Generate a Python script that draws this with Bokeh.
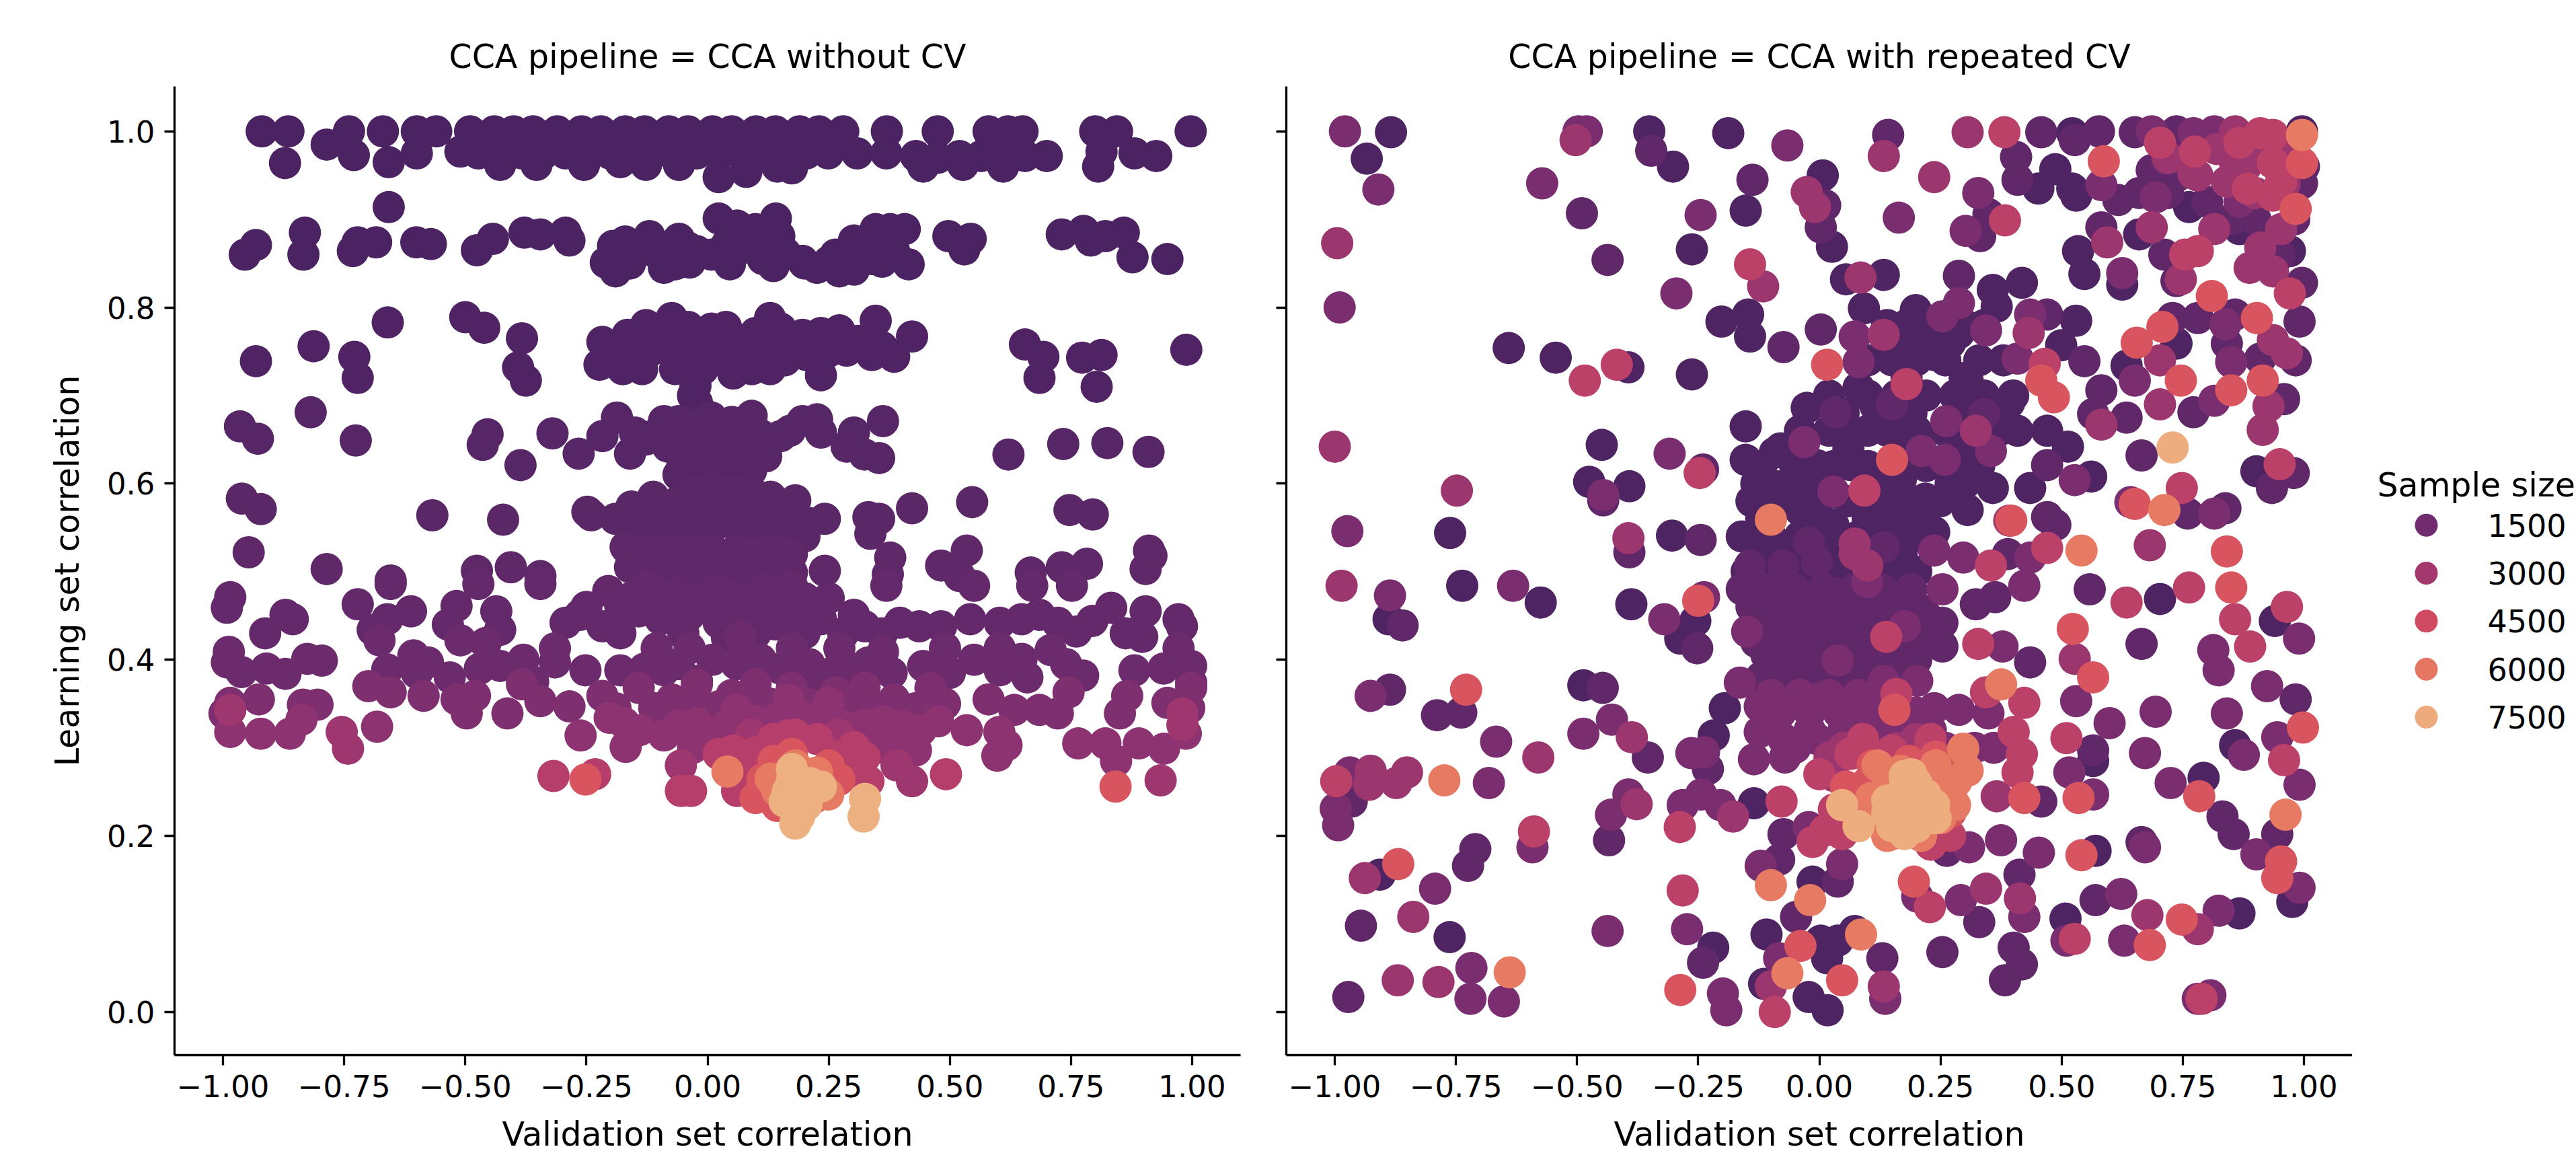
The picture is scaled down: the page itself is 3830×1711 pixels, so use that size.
from bokeh.plotting import figure
from bokeh.layouts import row
from bokeh.models import ColumnDataSource, LinearColorMapper, FixedTicker, Range1d
from bokeh.core.properties import value
from bokeh.transform import transform
from bokeh.embed import file_html
from bokeh.resources import INLINE

# ---------- chart values: (validation r, learning r) grouped by sample size ----------
L320 = [(-.92,1.0),(-.865,1.0),(-.74,1.0),(-.67,1.0),(-.60,1.0),(-.56,1.0),(-.49,1.0),(-.44,1.0),(-.40,1.0),(-.36,1.0),(-.31,1.0),(-.26,1.0),(-.22,1.0),(-.17,1.0),(-.13,1.0),(-.08,1.0),(-.04,1.0),(.01,1.0),(.05,1.0),(.10,1.0),(.14,1.0),(.19,1.0),(.23,1.0),(.28,1.0),(.37,1.0),(.475,1.0),(.58,1.0),(.62,1.0),(.65,1.0),(.80,1.0),(.845,1.0),(.997,1.0),
(-.786,.985),(-.73,.973),(-.60,.975),(-.51,.977),(-.473,.975),(-.428,.975),(-.383,.975),(-.338,.975),(-.293,.975),(-.248,.975),(-.202,.975),(-.157,.975),(-.112,.975),(-.067,.975),(-.022,.975),(.023,.975),(.068,.975),(.114,.975),(.159,.975),(.204,.975),(.249,.975),(.309,.975),(.369,.975),(.43,.972),(.475,.97),(.52,.972),(.565,.972),(.61,.972),(.655,.972),(.70,.972),(.813,.977),(.881,.975),(.926,.972),
(-.872,.964),(-.658,.965),(-.428,.962),(-.353,.962),(-.255,.962),(-.18,.965),(-.127,.962),(-.059,.962),(.023,.948),(.08,.954),(.144,.96),(.174,.958),(.806,.96),(.445,.96),(.527,.962),(.61,.96),
(-.45,.988),(-.4,.988),(-.33,.988),(-.27,.988),(-.2,.988),(-.15,.988),(-.1,.988),(-.05,.988),(0.0,.988),(.04,.988),(.09,.988),(.13,.988),(.18,.988),(.22,.988),(.27,.988)]
L340 = [(-.955,.860),(-.932,.871),(-.834,.860),(-.831,.885),(-.732,.864),(-.722,.874),(-.684,.874),(-.601,.874),(-.571,.872),(-.476,.865),(-.443,.878),(-.378,.885),(-.345,.883),(-.293,.885),(-.285,.876),(-.21,.851),(-.195,.870),(-.19,.841),(-.12,.881),(-.112,.864),(-.059,.878),(-.067,.849),(-.022,.864),(-.037,.851),(.023,.901),(.061,.893),(.099,.889),(.141,.901),(.148,.881),(.046,.849),(.114,.855),(.136,.847),(.196,.853),(.226,.845),(.264,.860),(.272,.841),(.302,.843),(.302,.876),(.347,.889),(.377,.889),(.407,.889),(.385,.864),(.415,.849),(.497,.881),(.543,.878),(.530,.866),(.731,.883),(.776,.887),(.821,.881),(.791,.876),(.859,.885),(.877,.857),(.949,.855),(-.658,.914),(-.157,.86),(-.09,.86),(.008,.86),(.083,.868),(.129,.876),(.324,.864),(.339,.855),
(-.17,.875),(-.04,.868),(.04,.872),(.07,.878),(.1,.865),(.16,.862),(.2,.85),(.25,.852),(.28,.858),(.33,.875),(.36,.852),(-.16,.85),(-.09,.845)]
L450 = [(-.932,.739),(-.813,.756),(-.729,.744),(-.722,.72),(-.66,.783),(-.50,.789),(-.461,.777),(-.383,.765),(-.391,.732),(-.375,.717),(-.217,.761),(-.223,.735),(-.175,.73),(-.165,.769),(-.135,.73),(-.127,.78),(-.074,.788),(-.067,.73),(-.025,.711),(.008,.776),(.038,.778),(.023,.751),(.053,.725),(.099,.771),(.091,.73),(.129,.788),(.151,.776),(.129,.73),(.196,.769),(.234,.771),(.272,.774),(.234,.723),(.287,.751),(.347,.785),(.339,.746),(.385,.744),(.422,.767),(.655,.758),(.693,.744),(.685,.72),(.773,.743),(.813,.746),(.803,.71),(.988,.752),(-.097,.759),(-.037,.759),(.068,.751),(.144,.751),(.204,.746),(-.037,.73),(-.022,.692),
(-.19,.75),(-.15,.75),(-.12,.75),(-.07,.755),(-.1,.775),(-.04,.778),(.0,.75),(.05,.765),(.1,.75),(.17,.755),(.25,.75),(.31,.762),(.36,.755),(-.01,.73),(.16,.74),(-.03,.70),(-.01,.68)]
L700 = [(-.965,.665),(-.928,.651),(-.819,.681),(-.726,.649),(-.454,.656),(-.464,.644),(-.386,.621),(-.32,.657),(-.266,.634),(-.217,.654),(-.187,.675),(-.16,.634),(-.15,.658),(-.09,.671),(-.059,.671),(-.082,.642),(-.052,.621),(-.022,.667),(.008,.675),(.038,.654),(.091,.677),(.083,.637),(.121,.631),(.151,.654),(.196,.671),(.226,.673),(.234,.658),(.302,.658),(.362,.671),(.287,.642),(.324,.633),(.354,.629),(.621,.633),(.734,.645),(.825,.646),(.91,.636),(-.022,.633),(.038,.629),(-.127,.65),(0.0,.608),(.068,.612),
(-.11,.655),(-.07,.655),(-.03,.65),(.01,.655),(.05,.67),(.07,.655),(.11,.655),(.01,.635),(.06,.635),(-.05,.64),(.17,.66),(-.06,.61),(.03,.61),(.09,.615)]
L800 = [(-.961,.583),(-.922,.571),(-.568,.564),(-.422,.559),(-.248,.568),(-.24,.564),(-.157,.574),(-.112,.585),(-.074,.57),(-.037,.591),(.008,.595),(.053,.591),(.099,.587),(.129,.562),(.181,.581),(.242,.56),(.332,.562),(.354,.56),(.422,.572),(.546,.579),(.747,.57),(.795,.565),(.336,.543),(-.112,.562),(-.022,.566),(.053,.566),(.174,.558),(-.127,.545),(-.022,.545),(.068,.545),(.159,.545),
(-.19,.56),(-.15,.555),(-.07,.55),(.02,.575),(.09,.57),(.13,.585),(.15,.565),(.21,.555),(-.09,.54),(.01,.55),(.11,.55),(.2,.54),(-.06,.58),(-.03,.57)]
L950 = [(-.947,.522),(-.786,.503),(-.654,.49),(-.476,.501),(-.406,.505),(-.345,.495),(-.169,.528),(-.127,.49),(-.052,.52),(.023,.52),(.099,.52),(.174,.52),(.242,.501),(.377,.516),(.372,.497),(.482,.507),(.535,.524),(.52,.495),(.667,.499),(.731,.505),(.783,.509),(.911,.524),(.904,.503),(.916,.518),(-.097,.499),(-.007,.499),(.083,.499),(.174,.499),
(-.13,.52),(-.09,.525),(-.015,.525),(.06,.525),(.135,.525),(-.05,.5),(.04,.5),(.125,.5),(-.16,.505)]
L1100 = [(-.985,.471),(-.992,.459),(-.871,.451),(-.856,.446),(-.913,.43),(-.722,.463),(-.654,.486),(-.612,.455),(-.661,.446),(-.691,.434),(-.536,.44),(-.518,.461),(-.436,.455),(-.428,.434),(-.473,.486),(-.345,.486),(-.205,.478),(-.127,.484),(-.067,.476),(.023,.48),(.114,.48),(.174,.484),(.369,.484),(.55,.484),(.67,.484),(.752,.484),
(-.293,.442),(-.263,.451),(-.217,.438),(-.18,.43),(-.142,.455),(-.097,.446),(-.037,.451),(.023,.442),(.068,.446),(.099,.43),(.174,.451),(.234,.446),(.302,.451),(.324,.438),(.397,.442),(.437,.438),(.482,.438),(.542,.446),(.603,.442),(.648,.446),(.685,.451),(.723,.442),(.761,.432),(.794,.444),(.833,.459),(.863,.43),(.904,.455),(.897,.426),(.972,.446),(.979,.438),
(-.16,.47),(-.1,.47),(-.03,.47),(.06,.47),(.13,.465),(.2,.47),(.25,.47),(-.18,.46),(-.25,.46),(-.07,.455),(.01,.46),(.1,.455),(.14,.44),(.2,.43),(-.05,.43),(.04,.425),(.28,.43),(.36,.43)]
L1350 = [(-.988,.409),(-.992,.397),(-.962,.386),(-.91,.39),(-.871,.384),(-.826,.401),(-.796,.399),(-.677,.422),(-.661,.389),(-.607,.405),(-.577,.397),(-.532,.38),(-.51,.422),(-.458,.419),(-.428,.393),(-.315,.413),(-.315,.397),(-.252,.388),(-.18,.388),(-.105,.413),(-.037,.413),(-.09,.388),(-.022,.376),(.068,.426),(.174,.413),(.272,.413),(.332,.397),(.362,.409),(.264,.388),(.445,.393),(.49,.413),(.603,.413),(.648,.401),(.708,.411),(.603,.388),(.775,.382),(.881,.388),(.941,.39),(.972,.413),(.998,.393),(.998,.374),
(-.6,.385),(-.47,.39),(-.38,.4),(-.36,.375),(-.13,.39),(-.06,.395),(.01,.4),(.06,.395),(.11,.4),(.15,.39),(.21,.395),(.23,.375),(.3,.39),(.38,.385),(.5,.385),(.55,.4),(.66,.38),(.74,.395)]
L1900 = [(-.985,.351),(-.997,.339),(-.926,.355),(-.835,.349),(-.805,.349),(-.70,.37),(-.654,.363),(-.586,.359),(-.518,.355),(-.48,.359),(-.497,.339),(-.413,.339),(-.383,.372),(-.345,.353),(-.285,.347),(-.217,.359),(-.142,.368),(-.074,.355),(-.022,.372),(.023,.347),(.099,.372),(.174,.368),(.264,.363),(.324,.368),(.385,.355),(.46,.368),(.58,.355),(.633,.343),(.685,.343),(.723,.339),(.745,.363),(.866,.359),(.851,.339),(.949,.351),(.994,.345),(.998,.368),
(-.19,.345),(-.11,.345),(-.05,.34),(.05,.36),(.13,.35),(.21,.35),(.3,.345),(.35,.345),(.43,.345),(.49,.35),(-.03,.35),(.08,.34)]
L2400 = [(-.985,.318),(-.922,.316),(-.862,.316),(-.838,.332),(-.682,.324),(-.262,.314),(-.202,.334),(-.169,.301),(-.172,.328),(-.09,.314),(-.022,.328),(.06,.343),(.167,.355),(.25,.351),(.324,.326),(.377,.31),(.43,.297),(.476,.33),(.535,.32),(.602,.318),(.598,.291),(.617,.303),(.765,.305),(.821,.305),(.843,.285),(.89,.305),(.942,.299),(.987,.316),
(-.14,.32),(-.06,.325),(.0,.31),(.04,.325),(.1,.33),(.15,.335),(.2,.335),(.24,.33),(.28,.325),(.36,.33),(.4,.325),(.44,.32),(.36,.3),(-.03,.3),(.33,.305)]
L2900 = [(-.985,.343),(-.755,.318),(-.742,.299),(-.055,.28),(.422,.262),(.935,.263),(.98,.326),(.98,.339),(.09,.315),(.27,.315),(.39,.28)]
L3600 = [(-.318,.268),(-.232,.27),(-.055,.251),(-.034,.251),(.023,.293),(.053,.297),(.136,.31),(.226,.31),(.302,.301),(.324,.289),(.166,.314),(.492,.27),(.061,.251),(.332,.262),(.18,.315),(.1,.295),(.26,.29),(.085,.27),(.3,.275)]
L4900 = [(-.252,.264),(.842,.256),(.136,.285),(.113,.264),(.099,.243),(.144,.234),(.219,.243),(.272,.264),(.174,.293),(.12,.25),(.25,.28)]
L6100 = [(.041,.273),(.144,.251),(.226,.272),(.249,.247),(.181,.28),(.13,.265),(.23,.255)]
L7700 = [(.325,.242),(.322,.222),(.174,.276),(.166,.251),(.211,.26),(.234,.256),(.159,.239),(.189,.222),(.181,.214),(.204,.235),(.174,.262)]

R400 = [(-.884,.999),(-.934,.969),(-.351,1.0),(-.188,.998),(.522,.998),(.996,1.0),(.487,.957),(.522,.935),(.452,.935),(.53,.927),(.763,.914),(-.302,.96),(.007,.95),(-.152,.91),(.026,.869),(-.263,.866),(.133,.837),(.055,.832),(.358,.82),(.418,.828),(.625,.826),(.547,.838),(.534,.864),(.66,.883),(.867,.889),(.971,.864),(.092,.799),(.199,.797),(.366,.801),(.53,.785),(.737,.759),(.634,.734),(.902,.614),(.202,.771),(.288,.771),(.499,.757),(.081,.709),(.237,.746),(.306,.717),(.392,.692),(.297,.698),(.409,.66),(.47,.66),(.513,.642),(.561,.608),(.435,.595),(.358,.595),(.271,.6),(-.026,.686),(.064,.658),(.116,.688),(-.152,.665),(-.152,.627),(-.092,.635),(-.088,.597),(-.04,.604),(-.005,.621),(.064,.621),(.168,.604),(.219,.583),(.306,.57),(.133,.57),(.029,.553),(-.04,.57),(-.109,.528),(.185,.553),(.237,.545),(-.641,.754),(-.544,.743),(-.394,.732),(-.263,.724),(-.202,.784),(-.147,.792),(-.143,.767),(-.449,.644),(-.475,.602),(-.392,.597),(-.762,.544),(-.304,.541),(-.737,.484),
(-.575,.465),(-.388,.463),(-.256,.444),(-.889,.446),(-.287,.424),(.703,.469),(.94,.444),(.858,.303),(.565,.285),(.793,.266),(.976,.125),(.867,.112),(.508,.106),(.57,.183),(.073,.092),(.003,.081),(.038,.081),(-.109,.088),(-.014,.148),(.016,.061),(-.114,.032),(.017,.002),(-.022,.017),(-.219,.073),(-.135,.237),(-.195,.345),(-.218,.314),(-.487,.371),(-.907,.156),(-.763,.085),
(.14,.78),(.18,.78),(.24,.78),(.3,.78),(.34,.78),(.1,.74),(.15,.74),(.2,.74),(.26,.74),(.33,.74),(.38,.74),(.02,.7),(.1,.7),(.16,.7),(.22,.7),(.28,.7),(.34,.7),(.4,.7),(-.04,.66),(.02,.66),(.1,.66),(.14,.66),(.2,.66),(.26,.66),(.3,.66),(.37,.66),(-.12,.62),(-.05,.62),(.03,.62),(.1,.62),(.16,.62),(.22,.62),(.28,.62),(.33,.62),(-.14,.58),(-.08,.58),(0.0,.58),(.06,.58),(.12,.58),(.18,.58),(.25,.58),(-.16,.54),(-.1,.54),(-.04,.54),(.02,.54),(.08,.54),(.14,.54),(.2,.54),(-.15,.5),(-.09,.5),(-.03,.5),(.03,.5),(.09,.5),(.15,.5),(.2,.5),
(.16,.76),(.27,.76),(.18,.72),(.3,.72),(.05,.68),(.19,.68),(.31,.68),(-.08,.64),(.06,.64),(.18,.64),(.29,.64),(-.13,.6),(.02,.6),(.14,.6),(.3,.6),(-.12,.56),(0.0,.56),(.1,.56),(.21,.56),(-.13,.52),(-.07,.52),(-.01,.52),(.05,.52),(.11,.52),(.17,.52)]
R1000 = [(-.347,.978),(.142,.996),(.458,.999),(.527,.99),(.577,1.0),(.651,.999),(.737,1.0),(.406,.971),(.409,.945),(.617,.922),(.686,.956),(.996,.941),(-.138,.945),(.012,.916),(-.49,.907),(.349,.906),(.332,.881),(.003,.891),(-.437,.854),(.288,.836),(.582,.891),(.712,.86),(.996,.828),(.737,.83),(.991,.784),(.858,.792),(.781,.788),(.729,.788),(.983,.74),(.91,.742),(.841,.759),(.959,.696),(.772,.681),(.634,.675),(.565,.679),(.582,.706),(.665,.632),(.979,.612),(.934,.595),(.76,.566),(.838,.572),(.47,.562),(.487,.553),(.389,.52),(.47,.792),(.547,.739),(.15,.69),(.34,.679),(.47,.621),(.033,.681),(-.074,.755),(.003,.775),(-.24,.616),(-.446,.581),(-.392,.522),(-.245,.536),
(-.022,.533),(-.143,.507),(-.074,.507),(.133,.528),(-.005,.511),(-.86,.439),(-.252,.413),(.558,.48),(.323,.463),(.363,.471),(.665,.418),(.435,.397),(.254,.415),(.237,.442),(.983,.355),(.565,.297),(.832,.222),(.855,.202),(.945,.202),(.665,.193),(.263,.183),(.458,.239),(.33,.102),(.413,.156),(.57,.127),(.254,.068),(.401,.073),(.418,.054),(.383,.036),(.13,.061),(-.048,.108),(.038,.148),(-.083,.173),(-.074,.202),(-.24,.056),(-.434,.195),(-.23,.276),(-.354,.289),(-.447,.368),(-.739,.34),(-.789,.337),(-.886,.366),(-.965,.239),(-.71,.185),(-.725,.166),(-.946,.098),(-.972,.017),
(-.109,.405),(-.04,.405),(.029,.405),(.099,.405),(.168,.405),(-.074,.442),(-.005,.451),(.064,.446),(-.057,.467),(.029,.476),(.15,.467),(.219,.451),(.254,.442),
(-.14,.46),(-.08,.46),(-.02,.46),(.04,.46),(.1,.46),(.16,.46),(.2,.46),(-.13,.42),(-.07,.42),(-.01,.42),(.05,.42),(.11,.42),(.17,.42),(.22,.42),(-.12,.38),(-.06,.38),(0.0,.38),(.06,.38),(.12,.38),(.17,.38),
(.66,.93),(.72,.93),(.74,.95),(.85,.9),(.9,.9),(.95,.86),(.98,.9),(1.0,.96),(.8,.92),
(-.16,.48),(-.11,.48),(-.05,.48),(.01,.48),(.07,.48),(.13,.48),(.19,.48),(-.11,.44),(-.04,.44),(.02,.44),(.08,.44),(.14,.44),(.2,.44),(-.1,.4),(-.02,.4),(.08,.4),(.14,.4),(.2,.4)]
R1800 = [(-.979,1.0),(-.91,.934),(-.497,1.0),(-.48,1.0),(-.066,.984),(.686,1.0),(.772,.998),(.815,1.0),(.582,.939),(.717,.969),(.694,.925),(.867,.92),(-.245,.905),(-.572,.941),(.328,.93),(.302,.887),(.164,.902),(-.295,.816),(-.99,.8),(.625,.839),(.838,.781),(.85,.738),(.651,.717),(.815,.694),(.642,.579),(.815,.566),(.435,.516),(.297,.516),(.237,.524),(.288,.805),(.254,.79),(.435,.792),(.073,.767),(.081,.738),(.344,.774),(.409,.742),(.262,.671),(.354,.637),(.527,.604),(.211,.637),(.259,.627),(.029,.591),(-.031,.647),(-.309,.634),(-.446,.587),(-.974,.546),(-.632,.484),
(-.886,.473),(-.32,.446),(-.238,.471),(-.149,.432),(.423,.484),(.254,.48),(.099,.488),(.99,.424),(.813,.411),(.824,.388),(.378,.415),(.176,.438),(.53,.353),(.599,.328),(.694,.341),(.841,.339),(.924,.37),(.945,.312),(.876,.292),(.672,.294),(.516,.272),(.565,.247),(.725,.26),(.991,.258),(.902,.179),(.991,.141),(.824,.115),(.623,.134),(.51,.081),(.629,.081),(.807,.019),(.781,.015),(.672,.187),(.453,.181),(.375,.195),(.309,.187),(.202,.131),(.292,.127),(.423,.108),(-.121,.166),(.047,.168),(-.022,.21),(-.083,.061),(.136,.015),(-.192,.002),(-.199,.021),(-.273,.094),(-.592,.187),(-.43,.224),(-.394,.247),(-.282,.235),(-.244,.247),(-.204,.235),(-.071,.289),(-.135,.287),(-.123,.318),(-.164,.374),(-.123,.347),(-.264,.294),(-.238,.295),(-.487,.316),(-.428,.332),(-.667,.307),(-.682,.26),(-.926,.359),(-.969,.272),(-.998,.231),(-.993,.212),(-.793,.14),(-.437,.092),(-.718,.05),(-.72,.015),(-.651,.012),
(-.005,.355),(.038,.399),(.133,.376),(.202,.376),(.237,.345),(.288,.343),(.349,.339),(.081,.334),(-.074,.31),(-.005,.31),(.099,.31),
(-.08,.34),(-.02,.34),(.04,.34),(.1,.34),(.16,.34),(.2,.34),(-.05,.3),(.02,.3),(.08,.3),(.12,.3),(.26,.3),(.32,.3),(.36,.3),(-.1,.36),(-.04,.36),(.02,.36),(.08,.36),(.14,.36),(-.02,.32),(.05,.32),(.11,.32),(.17,.32),(.23,.32)]
R2800 = [(-.503,.99),(.133,.972),(.306,.999),(.858,1.0),(.772,.952),(.858,.964),(.841,.943),(-.026,.931),(-.009,.914),(.237,.948),(-.995,.873),(-.116,.824),(.085,.834),(.594,.874),(.686,.891),(.815,.889),(.91,.868),(.953,.889),(.888,.845),(.936,.841),(.746,.832),(.703,.74),(.936,.763),(.965,.748),(.927,.688),(.703,.69),(.582,.667),(.915,.661),(-1.0,.642),(.133,.769),(.432,.771),(.323,.66),(.073,.532),(.073,.52),(.099,.507),(-.748,.592),(-.394,.538),(.682,.53),(-.986,.484),(.392,.558),
(.527,.401),(.677,.11),(.344,.14),(.414,.129),(.133,.029),(-.1,.029),(-.377,.236),(-.178,.222),(-.387,.312),(-.58,.289),(-.851,.272),(-.873,.26),(-.926,.274),(-.929,.258),(-.938,.152),(-.838,.108),(-.87,.036),(-.786,.034),(.366,.245),(.781,.094),(.021,.289),(.03,.268),
(.72,.97),(.78,.95),(.82,.98),(.88,.96),(.92,.97),(.95,.98),(.98,.98),(.9,.93),(.96,.94),(.98,.97),(.05,.3),(.2,.31),(.16,.3)]
R3800 = [(.382,.999),(.703,.987),(.775,.977),(.867,.987),(.91,.998),(.936,.996),(.936,.964),(.953,.943),(.884,.935),(.936,.927),(.383,.899),(-.143,.849),(.755,.86),(.781,.864),(.971,.816),(.748,.595),(-.418,.735),(-.484,.717),(.18,.713),(.465,.736),(.95,.622),(-.247,.612),(.47,.527),(.354,.507),(.093,.592),
(.634,.465),(.763,.482),(.965,.46),(.858,.446),(.889,.415),(.328,.418),(.138,.426),(.344,.363),(.423,.351),(.959,.286),(.51,.311),(.527,.083),(.789,.015),(.228,.119),(.409,.272),(.418,.293),(.401,.318),(-.014,.193),(-.092,.0),(-.282,.138),(-.288,.21),(-.589,.205),(-.078,.239),(-.997,.262),(.159,.361),(.15,.297),(.228,.301),(.142,.28),(.047,.202),(.012,.206),(.254,.21),(.064,.293),
(0.0,.27),(.09,.31),(.23,.31),(.26,.27),(.03,.23),(.06,.21),(.27,.2),(.23,.19)]
R4900 = [(.996,.964),(.587,.966),(.983,.912),(.81,.813),(.903,.788),(.708,.778),(.655,.76),(.746,.717),(.85,.706),(.915,.717),(.016,.735),(.458,.717),(.484,.698),(.651,.577),(.841,.523),(.396,.558),(.15,.627),
(-.25,.467),(.85,.482),(.523,.435),(.565,.38),(.998,.323),(.535,.243),(.784,.245),(.953,.171),(.945,.152),(.748,.105),(.682,.076),(.541,.178),(.423,.243),(.195,.148),(-.039,.075),(.047,.036),(-.287,.025),(-.869,.168),(-.729,.366),(.155,.343),(.055,.256),(.098,.26),(.185,.285),(.219,.277),(.271,.227),(.15,.202),
(.11,.28),(.24,.29),(.08,.22),(.27,.28)]
R6100 = [(.996,.996),(.712,.57),(-.1,.559),(.541,.524),(.375,.372),(.297,.299),(.306,.274),(.283,.262),(.28,.235),(.962,.224),(.086,.088),(-.019,.127),(-.1,.144),(-.066,.044),(-.774,.263),(-.639,.045),(.107,.243),(.142,.26),(.124,.227),(.271,.243),(.168,.274),
(.12,.28),(.24,.28),(.1,.22),(.25,.22),(.14,.2),(.21,.2),(.26,.26)]
R7600 = [(.729,.641),(.047,.235),(.081,.211),(.176,.268),(.219,.247),(.168,.243),(.237,.235),(.185,.222),(.15,.211),(.176,.202),(.176,.256),(.2,.26),(.14,.24),(.24,.22),(.14,.225),(.2,.21),(.22,.235),(.19,.27)]

left_groups = [(320,L320),(340,L340),(450,L450),(700,L700),(800,L800),(950,L950),(1100,L1100),(1350,L1350),(1900,L1900),(2400,L2400),(2900,L2900),(3600,L3600),(4900,L4900),(6100,L6100),(7700,L7700)]
right_groups = [(400,R400),(1000,R1000),(1800,R1800),(2800,R2800),(3800,R3800),(4900,R4900),(6100,R6100),(7600,R7600)]

legend_sizes = [1500, 3000, 4500, 6000, 7500]
legend_title = "Sample size"
x_ticks = [-1.0, -0.75, -0.5, -0.25, 0.0, 0.25, 0.5, 0.75, 1.0]
x_tick_labels = ["\u22121.00", "\u22120.75", "\u22120.50", "\u22120.25", "0.00", "0.25", "0.50", "0.75", "1.00"]
y_ticks = [0.0, 0.2, 0.4, 0.6, 0.8, 1.0]
y_tick_labels = ["0.0", "0.2", "0.4", "0.6", "0.8", "1.0"]
titles = ["CCA pipeline = CCA without CV", "CCA pipeline = CCA with repeated CV"]

# ---------- styling ----------
FONT = "DejaVu Sans"
flare_stops = ["#4b2362", "#6c2b6d", "#8f3371", "#b13c6c", "#d14a61", "#e3685c", "#e98d6b", "#edb081"]

def hex2rgb(h):
    return [int(h[i:i + 2], 16) for i in (1, 3, 5)]

palette = []
for k in range(256):
    t = k / 255 * (len(flare_stops) - 1)
    i = min(int(t), len(flare_stops) - 2)
    a, b = hex2rgb(flare_stops[i]), hex2rgb(flare_stops[i + 1])
    f = t - i
    palette.append("#%02x%02x%02x" % tuple(round(a[c] + (b[c] - a[c]) * f) for c in range(3)))
mapper = LinearColorMapper(palette=palette, low=300, high=7700)

DOT = 48
TOP, FRAME_W, FRAME_H, TOTAL_H = 128, 1585, 1440, 1711


def panel(groups, title, left, right, y_labels):
    xs, ys, ns = [], [], []
    for n, pts in groups:
        for px, py in pts:
            xs.append(px); ys.append(py); ns.append(n)
    p = figure(width=left + FRAME_W + right, height=TOTAL_H, frame_width=FRAME_W, frame_height=FRAME_H,
               min_border_left=left, min_border_right=right, min_border_top=TOP,
               min_border_bottom=TOTAL_H - TOP - FRAME_H, border_fill_color="white",
               x_range=Range1d(-1.1, 1.1), y_range=Range1d(-0.049, 1.051),
               output_backend="svg", toolbar_location=None, title=title)
    p.title.align = "center"
    p.title.text_font = FONT
    p.title.text_font_size = "49px"
    p.title.text_font_style = "normal"
    p.title.text_color = "black"
    p.title.standoff = 32
    p.outline_line_color = None
    p.grid.visible = False
    src = ColumnDataSource(dict(x=xs, y=ys, n=ns))
    p.scatter("x", "y", source=src, size=DOT, line_color=None, fill_color=transform("n", mapper))
    for ax in (p.xaxis[0], p.yaxis[0]):
        ax.axis_line_width = 3.3
        ax.major_tick_line_width = 3.3
        ax.major_tick_out = 15
        ax.major_tick_in = 0
        ax.minor_tick_out = 0
        ax.minor_tick_in = 0
        ax.major_label_text_font = FONT
        ax.major_label_text_font_size = "45px"
        ax.major_label_text_color = "black"
        ax.axis_label_text_font = FONT
        ax.axis_label_text_font_size = "49px"
        ax.axis_label_text_font_style = "normal"
        ax.axis_label_text_color = "black"
    p.xaxis[0].ticker = FixedTicker(ticks=x_ticks)
    p.xaxis[0].major_label_overrides = dict(zip(x_ticks, x_tick_labels))
    p.xaxis[0].axis_label = "Validation set correlation"
    p.xaxis[0].major_label_standoff = 14
    p.xaxis[0].axis_label_standoff = 24
    p.yaxis[0].ticker = FixedTicker(ticks=y_ticks)
    if y_labels:
        p.yaxis[0].major_label_overrides = dict(zip(y_ticks, y_tick_labels))
        p.yaxis[0].axis_label = "Learning set correlation"
        p.yaxis[0].major_label_standoff = 14
        p.yaxis[0].axis_label_standoff = 27
    else:
        p.yaxis[0].major_label_overrides = {t: "" for t in y_ticks}
    return p


p1 = panel(left_groups, titles[0], 259, 10, True)
p2 = panel(right_groups, titles[1], 58, 0, False)

# ---------- legend (its own small figure; the row lines its frame up with the panels' frames) ----------
W3 = 333
p3 = figure(width=W3, height=TOTAL_H, x_range=Range1d(3497, 3830), y_range=Range1d(TOP + FRAME_H, TOP),
            x_axis_location=None, y_axis_location=None, min_border=0,
            output_backend="svg", toolbar_location=None)
p3.outline_line_color = None
p3.grid.visible = False
row_y = [783 + 71.6 * i for i in range(len(legend_sizes))]
leg_src = ColumnDataSource(dict(x=[3607] * 5, lx=[3698] * 5, y=row_y, n=legend_sizes, label=[str(s) for s in legend_sizes]))
p3.scatter("x", "y", source=leg_src, size=34, line_color=None, fill_color=transform("n", mapper))
p3.text("lx", "y", text="label", source=leg_src, text_font=value(FONT), text_font_size="46px",
        text_color="black", text_baseline="middle", text_align="left")
p3.text([3534], [723], text=[legend_title], text_font=value(FONT), text_font_size="49px",
        text_color="black", text_baseline="alphabetic", text_align="left")

layout = row(p1, p2, p3, spacing=0)
open("out.html", "w").write(file_html(layout, INLINE))
